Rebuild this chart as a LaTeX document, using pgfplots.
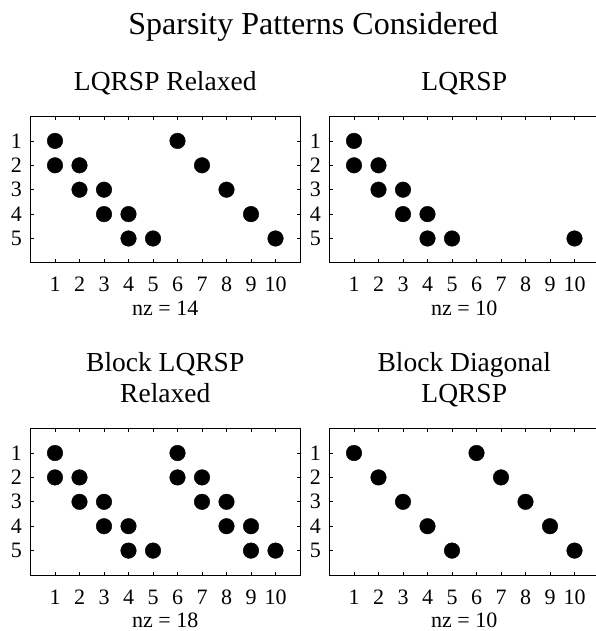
\documentclass[border=0pt]{standalone}
\usepackage{fontspec}
\setmainfont{Liberation Serif}
\usepackage{pgfplots}
\pgfplotsset{compat=1.18}
\pgfplotsset{
  spot/.style={only marks, mark=*, mark size=7.8pt, draw=black, fill=black, mark options={draw=black, fill=black}},
  spystyle/.style={
    scale only axis,
    width=269.5pt, height=146.4pt,
    anchor=north west,
    xmin=0, xmax=11, ymin=0, ymax=6,
    y dir=reverse,
    xtick={1,...,10}, ytick={1,...,5},
    tick align=inside,
    major tick length=3.5pt,
    axis line style={line width=0.9pt},
    every tick/.style={line width=0.8pt, black},
    /pgf/number format/assume math mode=true,
    tick label style={font=\fontsize{22}{24}\selectfont},
    xticklabel style={anchor=base, inner sep=0pt, yshift=-29pt},
    yticklabel style={anchor=east, inner sep=0pt, xshift=-8.5pt},
    xlabel style={font=\fontsize{22}{24}\selectfont, at={(0.5,0)}, anchor=base, yshift=-52.5pt, inner sep=0pt},
    title style={font=\fontsize{27.5}{31}\selectfont, at={(0.5,1)}, anchor=base, inner sep=0pt, align=center, yshift=20pt},
  }
}
\begin{document}
\begin{tikzpicture}
\path[use as bounding box] (0pt,0pt) rectangle (595pt,-631pt);
\node[anchor=base, font=\fontsize{32}{36}\selectfont, inner sep=0pt] at (313.3pt,-35pt) {Sparsity Patterns Considered};

\begin{axis}[spystyle, at={(30.5pt,-116.5pt)}, title={LQRSP Relaxed}, xlabel={nz = 14}]
\addplot[spot] coordinates {(1,1) (1,2) (2,2) (2,3) (3,3) (3,4) (4,4) (4,5) (5,5) (6,1) (7,2) (8,3) (9,4) (10,5)};
\end{axis}

\begin{axis}[spystyle, at={(329.5pt,-116.5pt)}, title={LQRSP}, xlabel={nz = 10}]
\addplot[spot] coordinates {(1,1) (1,2) (2,2) (2,3) (3,3) (3,4) (4,4) (4,5) (5,5) (10,5)};
\end{axis}

\begin{axis}[spystyle, at={(30.5pt,-428.6pt)}, title={Block LQRSP\\Relaxed}, xlabel={nz = 18}]
\addplot[spot] coordinates {(1,1) (1,2) (2,2) (2,3) (3,3) (3,4) (4,4) (4,5) (5,5) (6,1) (6,2) (7,2) (7,3) (8,3) (8,4) (9,4) (9,5) (10,5)};
\end{axis}

\begin{axis}[spystyle, at={(329.5pt,-428.6pt)}, title={Block Diagonal\\LQRSP}, xlabel={nz = 10}]
\addplot[spot] coordinates {(1,1) (2,2) (3,3) (4,4) (5,5) (6,1) (7,2) (8,3) (9,4) (10,5)};
\end{axis}
\end{tikzpicture}
\end{document}
